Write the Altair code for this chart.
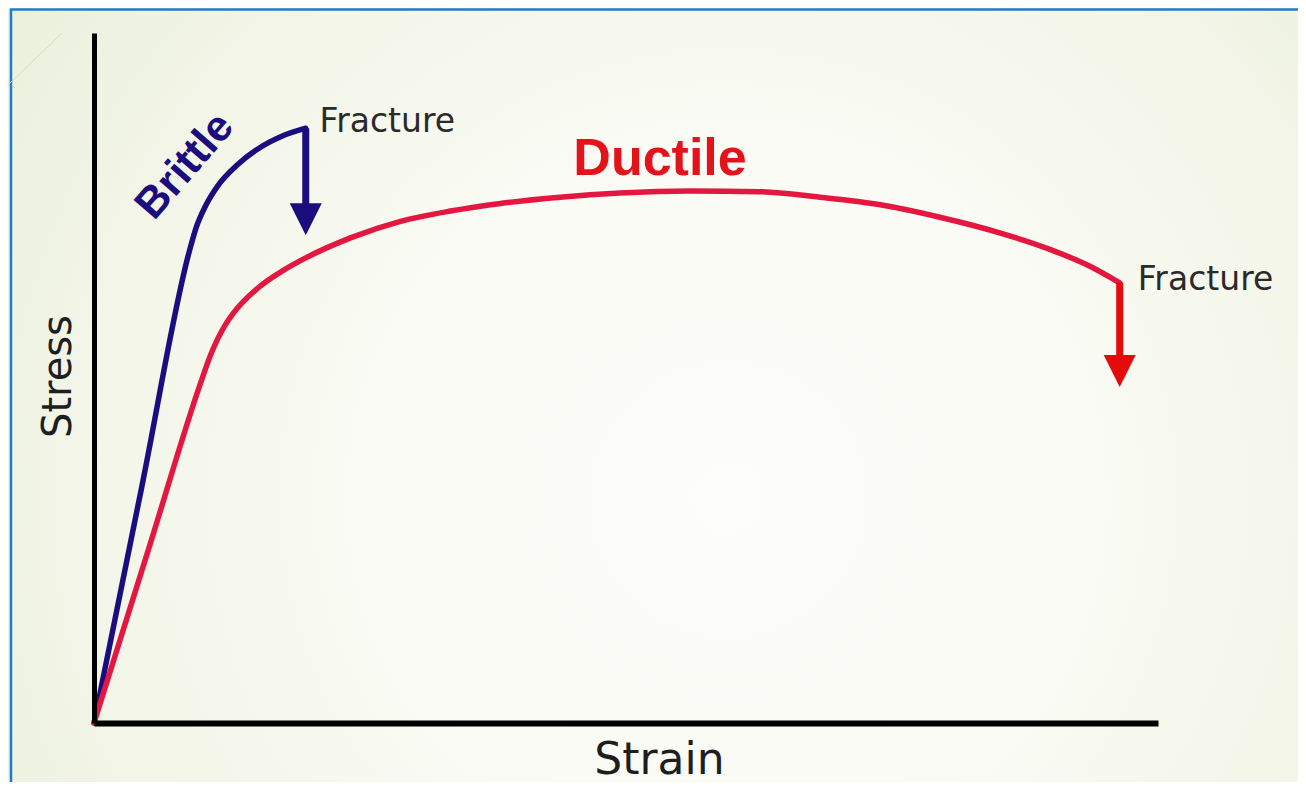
import altair as alt
import pandas as pd

# ---- data (strain / stress in % of axis length) ----
brittle_strain = [0, 4.5, 9.0, 9.6, 10.5, 11.7, 13.4, 15.4, 17.6, 19.9]
brittle_stress = [0, 34.3, 68.6, 71.8, 75.0, 78.0, 80.8, 83.2, 85.0, 86.2]

ductile_strain = [0, 5.1, 10.2, 10.9, 11.6, 12.3, 13.1, 15.3, 17.8, 19.4, 24.1, 28.8, 33.5,
                  38.2, 43.8, 49.4, 56.0, 62.6, 68.2, 73.9, 79.5, 85.2, 89.9, 93.6, 96.4]
ductile_stress = [0, 25.05, 50.1, 53.1, 55.6, 57.6, 59.4, 62.9, 65.6, 67.0, 70.3, 72.7, 74.2,
                  75.3, 76.2, 76.8, 77.1, 77.0, 76.2, 75.1, 73.3, 71.0, 68.6, 66.2, 63.8]

# fracture arrows  [Brittle, Ductile]
fracture_curve = ["Brittle", "Ductile"]
fracture_strain = [19.9, 96.4]
fracture_stress = [86.2, 63.8]
arrow_end_stress = [74.5, 52.5]
arrow_head_stress = [73.0, 51.0]

# labels
label_text = ["Brittle", "Fracture", "Ductile", "Fracture"]
label_strain = [8.55, 21.2, 53.2, 98.1]
label_stress = [80.7, 85.6, 79.4, 62.75]

x_title = "Strain"
y_title = "Stress"

# ---- styling ----
BLUE = "#1b0c80"
CRIMSON = "#e3173f"
RED = "#e60b0b"
W, H = 1064, 690

xs = alt.Scale(domain=[0, 100], nice=False, zero=False)
ys = alt.Scale(domain=[0, 100], nice=False, zero=False)

x_axis = alt.Axis(title=x_title, domain=True, domainColor="#000000", domainWidth=6,
                  ticks=False, labels=False, grid=False,
                  titleFont="DejaVu Sans", titleFontSize=44, titleFontWeight="normal",
                  titleColor="#1e1e1e", titleX=565, titleY=50,
                  titleBaseline="alphabetic", titleAlign="center", zindex=1)
y_axis = alt.Axis(title=y_title, domain=True, domainColor="#000000", domainWidth=5,
                  ticks=False, labels=False, grid=False,
                  titleFont="DejaVu Sans", titleFontSize=40, titleFontWeight="normal",
                  titleColor="#1e1e1e", titleAngle=270, titleX=-24, titleY=343,
                  titleBaseline="alphabetic", titleAlign="center", zindex=1)

X = lambda f="strain": alt.X(f"{f}:Q", scale=xs, axis=x_axis)
Y = lambda f="stress": alt.Y(f"{f}:Q", scale=ys, axis=y_axis)

one = pd.DataFrame({"a": [0]})

bg = alt.Chart(one).mark_rect(
    fill=alt.RadialGradient(
        gradient="radial",
        x1=0.558, y1=0.58, r1=0,
        x2=0.558, y2=0.58, r2=0.68,
        stops=[alt.GradientStop(offset=0, color="#fdfdfb"),
               alt.GradientStop(offset=0.4, color="#fafbf4"),
               alt.GradientStop(offset=0.75, color="#f2f5e7"),
               alt.GradientStop(offset=1, color="#ebf0dc")]),
).encode(x=alt.value(-86), x2=alt.value(1204), y=alt.value(-25), y2=alt.value(749))

frame_left = alt.Chart(one).mark_rule(color="#1f7ccc", strokeWidth=2.5).encode(
    x=alt.value(-83), y=alt.value(-24), y2=alt.value(749))
frame_top = alt.Chart(one).mark_rule(color="#1f7ccc", strokeWidth=2.5).encode(
    x=alt.value(-84), x2=alt.value(1204), y=alt.value(-23.5))
diag = alt.Chart(one).mark_rule(color="#d5d9c6", strokeWidth=1).encode(
    x=alt.value(-86), y=alt.value(52), x2=alt.value(-32), y2=alt.value(0))

curves = pd.DataFrame({
    "curve": ["Brittle"] * len(brittle_strain) + ["Ductile"] * len(ductile_strain),
    "strain": brittle_strain + ductile_strain,
    "stress": brittle_stress + ductile_stress,
    "order": list(range(len(brittle_strain))) + list(range(len(ductile_strain))),
})

def curve_layer(name, color):
    return alt.Chart(curves).transform_filter(alt.datum.curve == name).mark_line(
        color=color, strokeWidth=5.5, interpolate="monotone", strokeCap="round"
    ).encode(x=X(), y=Y(), order="order:Q")

arrows = pd.DataFrame({
    "curve": fracture_curve,
    "strain": fracture_strain,
    "stress": fracture_stress,
    "stress_end": arrow_end_stress,
    "head": arrow_head_stress,
})

def arrow_layers(name, color):
    shaft = alt.Chart(arrows).transform_filter(alt.datum.curve == name).mark_rule(
        color=color, strokeWidth=7
    ).encode(x=X(), y=Y(), y2="stress_end:Q")
    head = alt.Chart(arrows).transform_filter(alt.datum.curve == name).mark_point(
        shape="M-1,-1L1,-1L0,1Z", filled=True, size=1024, color=color, opacity=1,
        strokeWidth=0
    ).encode(x=X(), y=Y("head"))
    return [shaft, head]

labels = pd.DataFrame({"text": label_text, "strain": label_strain, "stress": label_stress,
                       "idx": list(range(len(label_text)))})

def label_layer(i, **kw):
    return alt.Chart(labels).transform_filter(alt.datum.idx == i).mark_text(**kw).encode(
        x=X(), y=Y(), text="text:N")

brittle_lbl = label_layer(0, font="Liberation Sans", fontSize=43, fontWeight="bold",
                          color=BLUE, angle=311, align="center", baseline="middle")
frac1_lbl = label_layer(1, font="DejaVu Sans", fontSize=33, color="#2a2a2a",
                        align="left", baseline="alphabetic")
ductile_lbl = label_layer(2, font="Liberation Sans", fontSize=52, fontWeight="bold",
                          color="#e3121b", align="center", baseline="alphabetic")
frac2_lbl = label_layer(3, font="DejaVu Sans", fontSize=33, color="#2a2a2a",
                        align="left", baseline="alphabetic")

chart = alt.layer(
    bg, frame_left, frame_top, diag,
    curve_layer("Brittle", BLUE), curve_layer("Ductile", CRIMSON),
    *arrow_layers("Brittle", BLUE), *arrow_layers("Ductile", RED),
    brittle_lbl, frac1_lbl, ductile_lbl, frac2_lbl,
).properties(
    width=W, height=H,
    padding={"left": 86, "top": 25, "right": 140, "bottom": 59},
    autosize=alt.AutoSizeParams(type="none"),
    background="#f3f5ea",
).configure_view(stroke=None)

chart.save("out.html", embed_options={"renderer": "svg", "actions": False})
